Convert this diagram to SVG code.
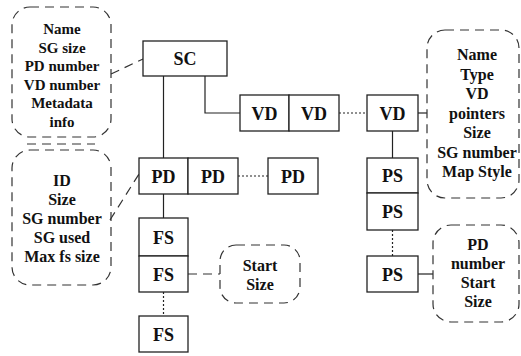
<svg xmlns="http://www.w3.org/2000/svg" width="521" height="356" viewBox="0 0 521 356">
  <style>
    .box { fill: #fff; stroke: #222; stroke-width: 1.3; }
    .note { fill: none; stroke: #333; stroke-width: 1.2; stroke-dasharray: 9 6; }
    .wire { fill: none; stroke: #222; stroke-width: 1.2; }
    .dot { fill: none; stroke: #222; stroke-width: 1.2; stroke-dasharray: 2 2; }
    .dash { fill: none; stroke: #333; stroke-width: 1.2; stroke-dasharray: 9 6; }
    .lbl { font-family: "Liberation Serif", "Times New Roman", serif; font-weight: bold; font-size: 18px; text-anchor: middle; fill: #111; }
    .txt { font-family: "Liberation Serif", "Times New Roman", serif; font-weight: bold; font-size: 16px; text-anchor: middle; fill: #111; }
  </style>

  <!-- connectors -->
  <g id="connectors">
    <line class="wire" x1="163.5" y1="76" x2="163.5" y2="158"/>
    <polyline class="wire" points="205,76 205,113 240,113"/>
    <line class="dot" x1="339" y1="113" x2="367" y2="113"/>
    <line class="wire" x1="418" y1="113" x2="427" y2="113"/>
    <line class="wire" x1="392.5" y1="131" x2="392.5" y2="158"/>
    <line class="dot" x1="392.5" y1="230" x2="392.5" y2="256"/>
    <line class="wire" x1="418" y1="274" x2="433" y2="274"/>
    <line class="dot" x1="238" y1="176" x2="268" y2="176"/>
    <line class="wire" x1="163.5" y1="194" x2="163.5" y2="218"/>
    <line class="dot" x1="163.5" y1="292" x2="163.5" y2="316"/>
    <line class="dash" x1="188" y1="274" x2="220" y2="274"/>
    <line class="dash" x1="111" y1="74" x2="143" y2="59"/>
    <line class="dash" x1="110" y1="220" x2="139" y2="174"/>
  </g>

  <!-- SC -->
  <g id="sc">
    <rect class="box" x="143" y="41" width="84" height="35"/>
    <text class="lbl" x="185" y="65">SC</text>
  </g>

  <!-- VD chain -->
  <g id="vd1">
    <rect class="box" x="240" y="95" width="49" height="36"/>
    <text class="lbl" x="264.5" y="119.5">VD</text>
  </g>
  <g id="vd2">
    <rect class="box" x="289" y="95" width="50" height="36"/>
    <text class="lbl" x="314" y="119.5">VD</text>
  </g>
  <g id="vd3">
    <rect class="box" x="367" y="95" width="51" height="36"/>
    <text class="lbl" x="392.5" y="119.5">VD</text>
  </g>

  <!-- PS chain -->
  <g id="ps1">
    <rect class="box" x="367" y="158" width="51" height="35"/>
    <text class="lbl" x="392.5" y="182">PS</text>
  </g>
  <g id="ps2">
    <rect class="box" x="367" y="193" width="51" height="37"/>
    <text class="lbl" x="392.5" y="218">PS</text>
  </g>
  <g id="ps3">
    <rect class="box" x="367" y="256" width="51" height="36"/>
    <text class="lbl" x="392.5" y="280.5">PS</text>
  </g>

  <!-- PD chain -->
  <g id="pd1">
    <rect class="box" x="139" y="158" width="49" height="36"/>
    <text class="lbl" x="163.5" y="182.5">PD</text>
  </g>
  <g id="pd2">
    <rect class="box" x="188" y="158" width="50" height="36"/>
    <text class="lbl" x="213" y="182.5">PD</text>
  </g>
  <g id="pd3">
    <rect class="box" x="268" y="158" width="50" height="36"/>
    <text class="lbl" x="293" y="182.5">PD</text>
  </g>

  <!-- FS chain -->
  <g id="fs1">
    <rect class="box" x="139" y="218" width="49" height="38"/>
    <text class="lbl" x="163.5" y="243.5">FS</text>
  </g>
  <g id="fs2">
    <rect class="box" x="139" y="256" width="49" height="36"/>
    <text class="lbl" x="163.5" y="280.5">FS</text>
  </g>
  <g id="fs3">
    <rect class="box" x="139" y="316" width="49" height="36"/>
    <text class="lbl" x="163.5" y="340.5">FS</text>
  </g>

  <!-- SC attributes -->
  <g id="note-sc">
    <rect class="note" x="12" y="7" width="99" height="130" rx="18"/>
    <line class="note" x1="27" y1="144" x2="95" y2="144"/>
    <text class="txt" style="font-size:15px" x="62" y="34">Name</text>
    <text class="txt" style="font-size:15px" x="62" y="52.5">SG size</text>
    <text class="txt" style="font-size:15px" x="62" y="71">PD number</text>
    <text class="txt" style="font-size:15px" x="62" y="89.5">VD number</text>
    <text class="txt" style="font-size:15px" x="62" y="108">Metadata</text>
    <text class="txt" style="font-size:15px" x="62" y="126.5">info</text>
  </g>

  <!-- PD attributes -->
  <g id="note-pd">
    <rect class="note" x="12" y="150" width="99" height="135" rx="18"/>
    <text class="txt" x="62" y="185.5">ID</text>
    <text class="txt" x="62" y="204.5">Size</text>
    <text class="txt" x="62" y="223.5">SG number</text>
    <text class="txt" x="62" y="242.5">SG used</text>
    <text class="txt" x="62" y="261.5">Max fs size</text>
  </g>

  <!-- FS attributes -->
  <g id="note-fs">
    <rect class="note" x="220" y="245" width="80" height="58" rx="16"/>
    <text class="txt" x="260" y="270.5">Start</text>
    <text class="txt" x="260" y="289.5">Size</text>
  </g>

  <!-- VD attributes -->
  <g id="note-vd">
    <rect class="note" x="427" y="30" width="92" height="168" rx="18"/>
    <text class="txt" x="477" y="60">Name</text>
    <text class="txt" x="477" y="79.5">Type</text>
    <text class="txt" x="477" y="99">VD</text>
    <text class="txt" x="477" y="118.5">pointers</text>
    <text class="txt" x="477" y="138">Size</text>
    <text class="txt" x="477" y="157.5">SG number</text>
    <text class="txt" x="477" y="177">Map Style</text>
  </g>

  <!-- PS attributes -->
  <g id="note-ps">
    <rect class="note" x="433" y="225" width="86" height="97" rx="18"/>
    <text class="txt" x="478" y="249.5">PD</text>
    <text class="txt" x="478" y="268.5">number</text>
    <text class="txt" x="478" y="288">Start</text>
    <text class="txt" x="478" y="307">Size</text>
  </g>
</svg>
